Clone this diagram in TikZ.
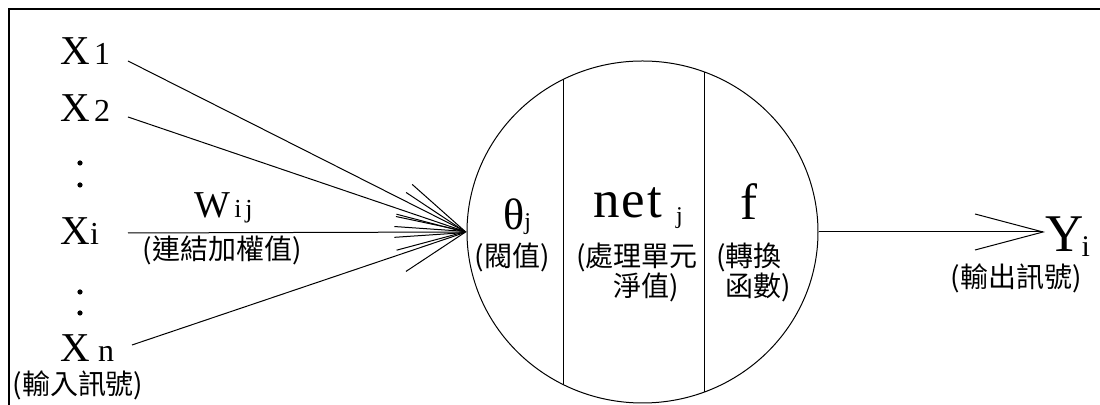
\documentclass[tikz,border=0pt]{standalone}
\usepackage{fontspec}
\setmainfont{Liberation Serif}
\newfontfamily\cjk{Noto Sans CJK TC}
\usetikzlibrary{arrows.meta,shapes.geometric}
\newcommand{\sz}[2]{{\fontsize{#1}{#1}\selectfont #2}}

\begin{document}
\begin{tikzpicture}[x=0.5pt,y=0.5pt,>={Straight Barb[length=34pt,width=18pt]},
  every node/.style={inner sep=0pt}]
  \tikzset{sym/.style={anchor=base west},
           note/.style={font=\cjk\fontsize{14}{15}\selectfont,align=left},
           wire/.style={line width=0.5pt}}
  \useasboundingbox (0,0) rectangle (1100,405);
  \draw[line width=1.1pt] (9,0) |- (1100,396);
  % input signals
  \node[sym] (x1) at (60,340) {\sz{20.5}{X}\hspace{2pt}\sz{16}{1}};
  \node[sym] (x2) at (60,283) {\sz{20.5}{X}\hspace{2pt}\sz{16}{2}};
  \node[sym] (xi) at (60,160) {\sz{20.5}{X}\sz{16}{i}};
  \node[sym] (xn) at (60,43) {\sz{20.5}{X}\hspace{4pt}\sz{16}{n}};
  \fill (80,242) circle (2.6) (80,220) circle (2.6)
        (80,113) circle (2.6) (80,92) circle (2.6);
  \node[note] (innote) at (78,20) {(輸入訊號)};
  \node[sym] (w) at (194,187) {\sz{19}{W}\hspace{2pt}\sz{13}{i\hspace{2pt}j}};
  \node[note] (wnote) at (222,155) {(連結加權值)};
  % processing unit
  \node[draw,ellipse,minimum width=175.5pt,minimum height=171pt,wire] (unit) at (642.5,173) {};
  \begin{scope}
    \clip (unit.center) ellipse [x radius=175.5,y radius=171];
    \draw[wire] (563,0) -- (563,405) (704,0) -- (704,405);
  \end{scope}
  \node[sym] (theta) at (503,175) {\sz{22}{θ}\sz{12}{j}};
  \node[note] (thnote) at (512,148) {(閥值)};
  \node[sym] (net) at (593,187) {\sz{26.5}{n\hspace{1pt}e\hspace{1pt}t}\hspace{7pt}\raisebox{-3pt}{\sz{12}{j}}};
  \node[note,anchor=north west] (netnote) at (576,162) {(處理單元\\\phantom{(處}淨值)};
  \node[sym] (f) at (740,185) {\sz{25.5}{f}};
  \node[note,anchor=north west] (fnote) at (716,162) {(轉換\\\phantom{(}函數)};
  % output
  \node[sym] (yout) at (1045,153) {\sz{26.5}{Y}\hspace{-1pt}\raisebox{-2.5pt}{\sz{15}{i}}};
  \node[note] (outnote) at (1016,127) {(輸出訊號)};
  \draw[wire,->] ([shift={(68,4)}]x1.base west) -- (unit.west);
  \draw[wire,->] ([shift={(68,5)}]x2.base west) -- (unit.west);
  \draw[wire,->] ([shift={(68,12)}]xi.base west) -- (unit.west);
  \draw[wire,->] ([shift={(72,17)}]xn.base west) -- (unit.west);
  \draw[wire,->] (unit.east) -- (unit.east -| yout.west);
\end{tikzpicture}
\end{document}
